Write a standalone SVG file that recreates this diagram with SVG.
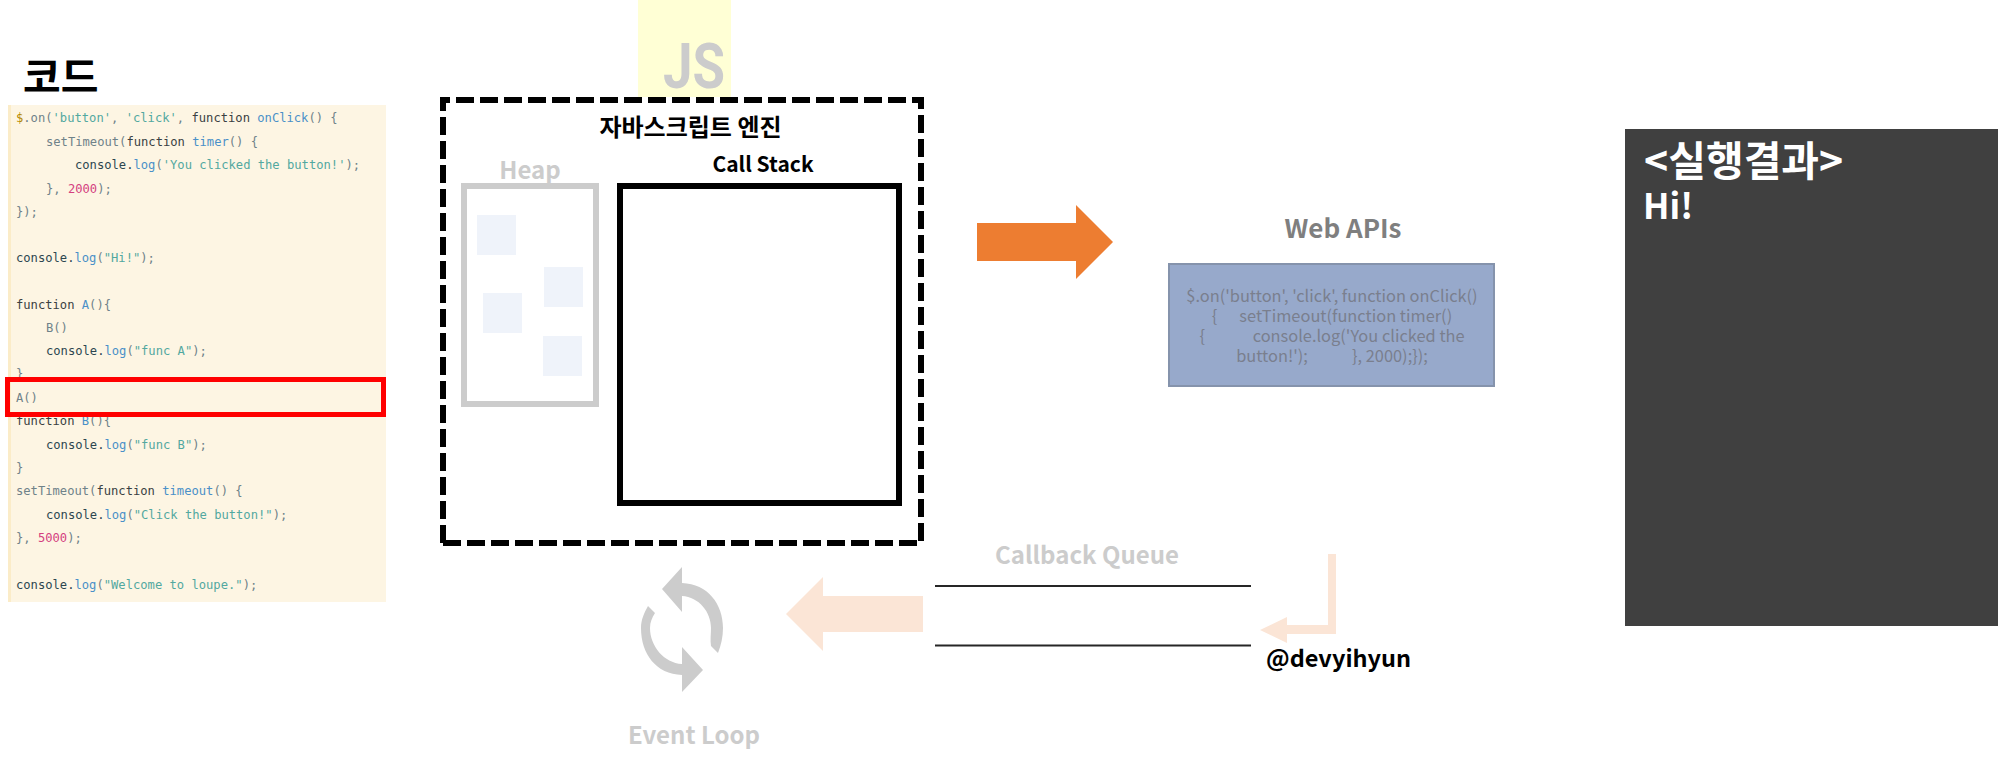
<svg xmlns="http://www.w3.org/2000/svg" width="1998" height="764" viewBox="0 0 1998 764">
<style>
text{font-family:"Noto Sans CJK KR","Noto Sans",sans-serif;font-weight:700}
.code text{font-family:"DejaVu Sans Mono",monospace;font-size:12.15px;font-weight:400;fill:#6f8289;white-space:pre}
.d{fill:#2c4650}.k{fill:#3a3f42}.s{fill:#52a8a0}.b{fill:#4a90c8}.n{fill:#d4407f}
.api text{font-family:"Noto Sans CJK KR","Noto Sans",sans-serif;font-size:16.4px;font-weight:400;fill:#7a7f8e;white-space:pre;text-anchor:middle}
.sq{fill:#eff3fa}
.faint{fill:#cccccc}
.peach{fill:#fbe5d6}
.ln{stroke:#262626;stroke-width:2;fill:none}
.dash{stroke:#000;stroke-width:6;stroke-dasharray:18 6;fill:none}
</style>
<rect width="1998" height="764" fill="#ffffff"/>
<g id="code-title"><text x="23" y="92" font-size="41" fill="#000">코드</text></g>
<g id="code" class="code">
<rect x="8" y="105" width="378" height="497" fill="#fdf5e3"/>
<rect x="8" y="105" width="3" height="497" fill="#fbecc8"/>
<text x="16" y="122"><tspan fill="#b58900">$</tspan>.on(<tspan class="s">'button'</tspan>, <tspan class="s">'click'</tspan>, <tspan class="k">function</tspan> <tspan class="b">onClick</tspan>() {</text>
<text x="46" y="146">setTimeout(<tspan class="k">function</tspan> <tspan class="b">timer</tspan>() {</text>
<text x="75" y="169"><tspan class="d">console.</tspan><tspan class="b">log</tspan>(<tspan class="s">'You clicked the button!'</tspan>);</text>
<text x="46" y="193">}, <tspan class="n">2000</tspan>);</text>
<text x="16" y="216">});</text>
<text x="16" y="262"><tspan class="d">console.</tspan><tspan class="b">log</tspan>(<tspan class="s">"Hi!"</tspan>);</text>
<text x="16" y="309"><tspan class="k">function</tspan> <tspan class="b">A</tspan>(){</text>
<text x="46" y="332">B()</text>
<text x="46" y="355"><tspan class="d">console.</tspan><tspan class="b">log</tspan>(<tspan class="s">"func A"</tspan>);</text>
<text x="16" y="378">}</text>
<text x="16" y="402">A()</text>
<text x="16" y="425"><tspan class="k">function</tspan> <tspan class="b">B</tspan>(){</text>
<text x="46" y="449"><tspan class="d">console.</tspan><tspan class="b">log</tspan>(<tspan class="s">"func B"</tspan>);</text>
<text x="16" y="472">}</text>
<text x="16" y="495">setTimeout(<tspan class="k">function</tspan> <tspan class="b">timeout</tspan>() {</text>
<text x="46" y="519"><tspan class="d">console.</tspan><tspan class="b">log</tspan>(<tspan class="s">"Click the button!"</tspan>);</text>
<text x="16" y="542">}, <tspan class="n">5000</tspan>);</text>
<text x="16" y="589"><tspan class="d">console.</tspan><tspan class="b">log</tspan>(<tspan class="s">"Welcome to loupe."</tspan>);</text>
</g>
<g id="highlight"><rect x="7.500" y="379.500" width="376" height="35" fill="none" stroke="#ff0000" stroke-width="5"/></g>
<g id="js-logo"><rect x="638" y="0" width="93" height="97" fill="#ffffd5"/><text x="663" y="88" font-size="63" class="faint" textLength="62" lengthAdjust="spacingAndGlyphs" style="font-family:Roboto,sans-serif">JS</text></g>
<g id="engine">
<line class="dash" x1="440" y1="100" x2="924" y2="100" style="stroke-dashoffset:8"/>
<line class="dash" x1="921" y1="97" x2="921" y2="541" style="stroke-dashoffset:6"/>
<line class="dash" x1="443" y1="543" x2="917" y2="543"/>
<line class="dash" x1="443" y1="97" x2="443" y2="543" style="stroke-dashoffset:4"/>
<text x="690.500" y="136" font-size="24" text-anchor="middle" fill="#000">자바스크립트 엔진</text>
</g>
<g id="heap">
<rect x="464" y="186" width="132" height="218" fill="none" stroke="#cccccc" stroke-width="6"/>
<text x="530" y="179" font-size="24" text-anchor="middle" class="faint">Heap</text>
<rect class="sq" x="477" y="215" width="39" height="40"/>
<rect class="sq" x="544" y="267" width="39" height="40"/>
<rect class="sq" x="483" y="293" width="39" height="40"/>
<rect class="sq" x="543" y="336" width="39" height="40"/>
</g>
<g id="call-stack">
<rect x="620" y="186" width="279" height="317" fill="none" stroke="#000" stroke-width="6"/>
<text x="763" y="172" font-size="21" text-anchor="middle" fill="#000">Call Stack</text>
</g>
<g id="web-apis" class="api">
<text x="1343" y="238" style="font-size:26px;font-weight:700;fill:#7f7f7f">Web APIs</text>
<rect x="1169" y="264" width="325" height="122" fill="#97a9cb" stroke="#8593ac" stroke-width="2"/>
<text x="1332" y="302">$.on('button', 'click', function onClick()</text>
<text x="1332" y="322">{      setTimeout(function timer()</text>
<text x="1332" y="342">{             console.log('You clicked the</text>
<text x="1332" y="362">button!');            }, 2000);});</text>
</g>
<g id="callback-queue">
<text x="1087" y="564" font-size="24" text-anchor="middle" class="faint">Callback Queue</text>
<line class="ln" x1="935" y1="586" x2="1251" y2="586"/>
<line class="ln" x1="935" y1="645.500" x2="1251" y2="645.500"/>
</g>
<g id="event-loop">
<path class="faint" d="M662 589L682 567V583C708 584 723 604 723 628C723 637 721 645 718 653L711 646C710 640 711 634 711 628C711 612 699 597 682 596V612Z"/>
<path class="faint" d="M703 670L682 692V675C656 674 641 654 641 628C641 620 644 613 648 606L655 613C652 618 650 622 650 628C650 646 664 663 682 664V647Z"/>
<text x="694" y="744" font-size="24" text-anchor="middle" class="faint">Event Loop</text>
</g>
<g id="connectors">
<path fill="#ed7d31" d="M977 223H1076V205L1113 242L1076 279V261H977Z"/>
<path class="peach" d="M923 596H823V577L786 614L823 651V632H923Z"/>
<path class="peach" d="M1328 554H1336V634H1287V643L1260 630L1287 617V625H1328Z"/>
</g>
<g id="credit"><text x="1266" y="667" font-size="23.500" fill="#000">@devyihyun</text></g>
<g id="result">
<rect x="1625" y="129" width="373" height="497" fill="#404040"/>
<text x="1644" y="176" font-size="41" fill="#fff">&lt;실행결과&gt;</text>
<text x="1643" y="219" font-size="35" fill="#fff">Hi!</text>
</g>
</svg>
